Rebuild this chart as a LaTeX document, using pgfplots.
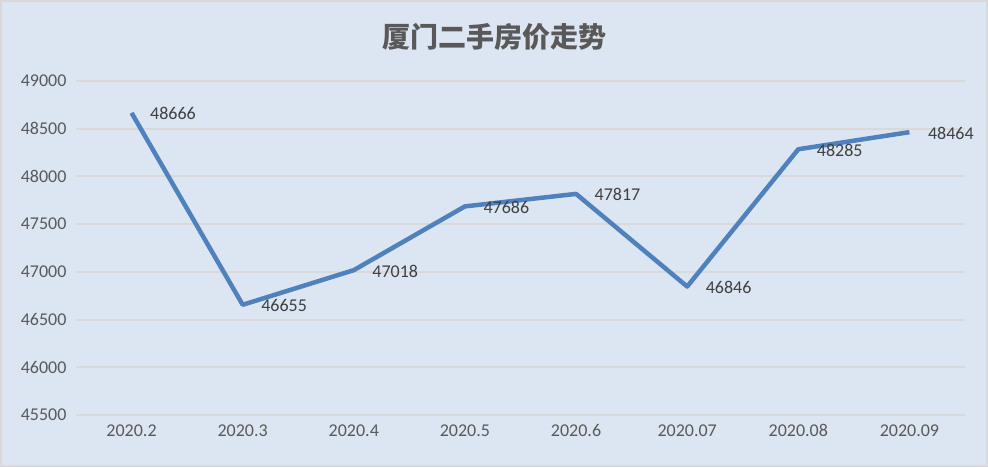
\documentclass[border=0pt]{standalone}
\usepackage{fontspec}
\setmainfont{Carlito}
\newfontfamily\cjk{Noto Sans CJK SC}
\usepackage{pgfplots}
\pgfplotsset{compat=1.18}
\definecolor{bgc}{HTML}{DCE6F2}
\definecolor{linec}{HTML}{4F81BD}
\definecolor{gridc}{HTML}{D9D9D9}
\definecolor{txtc}{HTML}{595959}
\definecolor{lblc}{HTML}{404040}
\begin{document}
\begin{tikzpicture}
\fill[bgc] (0,0) rectangle (988pt,467pt);
\draw[gridc, line width=2pt] (1pt,1pt) rectangle (987pt,466pt);
\node[text=txtc, font=\cjk\bfseries\fontsize{28}{32}\selectfont] at (494pt,430pt) {厦门二手房价走势};
\begin{axis}[
    at={(76pt,52pt)}, anchor=south west,
    scale only axis, width=889pt, height=334pt,
    xmin=-0.5, xmax=7.5, ymin=45500, ymax=49000,
    xtick={0,...,7},
    xticklabels={2020.2,2020.3,2020.4,2020.5,2020.6,2020.07,2020.08,2020.09},
    ytick={45500,46000,...,49000},
    scaled y ticks=false,
    yticklabel={\pgfmathprintnumber[fixed,precision=0,1000 sep={}]{\tick}},
    ymajorgrids, major grid style={gridc, line width=2pt},
    axis line style={draw=none}, major tick length=0pt,
    /pgf/number format/1000 sep={},
    /pgf/number format/assume math mode=true,
    ticklabel style={text=txtc, font=\fontsize{18}{20}\selectfont},
    yticklabel style={xshift=-6pt},
    xticklabel style={yshift=-6pt},
    clip=false,
]
\addplot[linec, line width=4.5pt, line join=round,
    nodes near coords, point meta=explicit symbolic,
    every node near coord/.append style={anchor=west, xshift=13pt, yshift=-1pt, text=lblc, font=\fontsize{18}{20}\selectfont}]
coordinates {
(0,48666)[48666] (1,46655)[46655] (2,47018)[47018] (3,47686)[47686]
(4,47817)[47817] (5,46846)[46846] (6,48285)[48285] (7,48464)[48464]
};
\end{axis}
\end{tikzpicture}
\end{document}
